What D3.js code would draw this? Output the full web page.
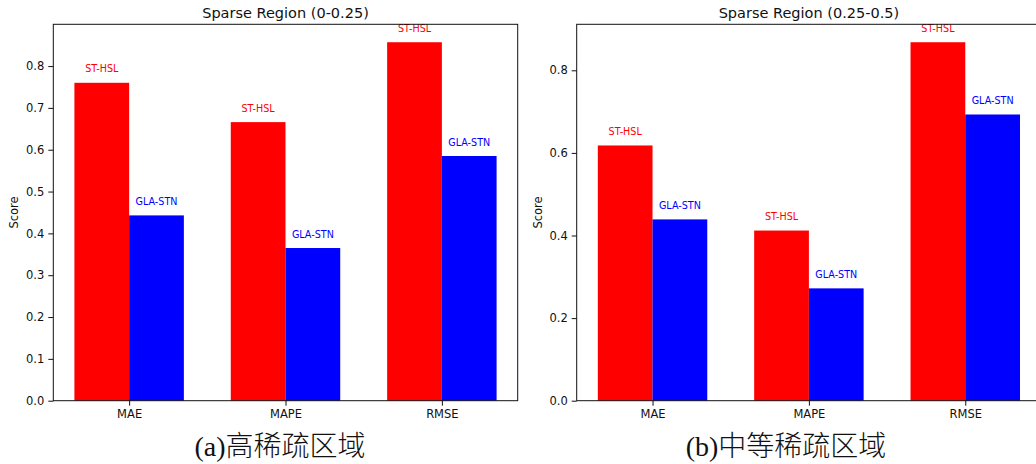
<!DOCTYPE html>
<html>
<head>
<meta charset="utf-8">
<script src="https://cdn.jsdelivr.net/npm/d3@7"></script>
<style>
  body { margin: 0; background: #fff; }
  svg { display: block; }
  text { font-family: "DejaVu Sans", sans-serif; }
</style>
</head>
<body>
<svg id="chart" width="1036" height="464"></svg>
<script>
// ---- data ----
const metrics = ["MAE", "MAPE", "RMSE"];
const seriesNames = ["ST-HSL", "GLA-STN"];
const seriesColors = ["#ff0000", "#0000ff"];

// high-sparsity region (0-0.25)
const highSparseSTHSL = [0.760, 0.666, 0.857];
const highSparseGLASTN = [0.443, 0.365, 0.585];
// medium-sparsity region (0.25-0.5)
const midSparseSTHSL = [0.618, 0.412, 0.868];
const midSparseGLASTN = [0.439, 0.272, 0.693];

const highTicks = [0.0, 0.1, 0.2, 0.3, 0.4, 0.5, 0.6, 0.7, 0.8];
const midTicks = [0.0, 0.2, 0.4, 0.6, 0.8];

const panelTitles = ["Sparse Region (0-0.25)", "Sparse Region (0.25-0.5)"];
const captions = ["(a)高稀疏区域", "(b)中等稀疏区域"];
const yLabel = "Score";

// ---- layout ----
const svg = d3.select("#chart");
svg.append("rect").attr("width", 1036).attr("height", 464).attr("fill", "#fff");

const barWidth = 0.35;
const plotTop = 24.3, plotBottom = 400.7;

const panels = [
  { left: 53.3, right: 517.7, series: [highSparseSTHSL, highSparseGLASTN], ticks: highTicks,
    title: panelTitles[0], caption: captions[0], captionX: 280, ylabelX: 14 },
  { left: 576.7, right: 1041.1, series: [midSparseSTHSL, midSparseGLASTN], ticks: midTicks,
    title: panelTitles[1], caption: captions[1], captionX: 786, ylabelX: 537.7 }
];

panels.forEach(p => {
  const g = svg.append("g");
  const allVals = p.series.flat();
  const yMax = d3.max(allVals) * 1.05;

  // bars sit at index ± width/2, with 5% horizontal margin like a default autoscale
  const dataMin = -barWidth, dataMax = metrics.length - 1 + barWidth;
  const pad = (dataMax - dataMin) * 0.05;
  const x = d3.scaleLinear().domain([dataMin - pad, dataMax + pad]).range([p.left, p.right]);
  const y = d3.scaleLinear().domain([0, yMax]).range([plotBottom, plotTop]);

  // bars
  p.series.forEach((vals, si) => {
    const offset = si === 0 ? -barWidth : 0;
    g.selectAll(null).data(vals).enter().append("rect")
      .attr("x", (d, i) => x(i + offset))
      .attr("y", d => y(d))
      .attr("width", (d, i) => x(i + offset + barWidth) - x(i + offset))
      .attr("height", d => y(0) - y(d))
      .attr("fill", seriesColors[si]);

    g.selectAll(null).data(vals).enter().append("text")
      .attr("x", (d, i) => x(i + offset + barWidth / 2))
      .attr("y", d => y(d + 0.02) - 2)
      .attr("text-anchor", "middle")
      .attr("font-size", "9.6px")
      .attr("fill", seriesColors[si])
      .text(seriesNames[si]);
  });

  // frame
  g.append("rect")
    .attr("x", p.left).attr("y", plotTop)
    .attr("width", p.right - p.left).attr("height", plotBottom - plotTop)
    .attr("fill", "none").attr("stroke", "#111").attr("stroke-width", 1);

  // y axis
  const yAxis = g.append("g").attr("transform", `translate(${p.left},0)`)
    .call(d3.axisLeft(y).tickValues(p.ticks).tickFormat(d3.format(".1f")).tickSize(5).tickPadding(4));
  yAxis.select(".domain").remove();
  yAxis.selectAll("text").attr("font-size", "11.5px").attr("font-family", "DejaVu Sans").attr("fill", "#111");
  yAxis.selectAll("line").attr("stroke", "#111");

  // x axis
  const xAxis = g.append("g").attr("transform", `translate(0,${plotBottom})`)
    .call(d3.axisBottom(x).tickValues(d3.range(metrics.length)).tickFormat(i => metrics[i]).tickSize(5).tickPadding(4));
  xAxis.select(".domain").remove();
  xAxis.selectAll("text").attr("font-size", "11.5px").attr("font-family", "DejaVu Sans").attr("fill", "#111");
  xAxis.selectAll("line").attr("stroke", "#111");

  // y label
  g.append("text")
    .attr("transform", `translate(${p.ylabelX},${(plotTop + plotBottom) / 2}) rotate(-90)`)
    .attr("dy", "0.35em")
    .attr("text-anchor", "middle")
    .attr("font-size", "11.5px")
    .attr("fill", "#111")
    .text(yLabel);

  // title
  g.append("text")
    .attr("x", (p.left + p.right) / 2).attr("y", 17.5)
    .attr("text-anchor", "middle")
    .attr("font-size", "14.5px")
    .attr("fill", "#111")
    .text(p.title);

  // caption
  g.append("text")
    .attr("x", p.captionX).attr("y", 456)
    .attr("text-anchor", "middle")
    .attr("font-size", "28px")
    .attr("font-weight", 300)
    .style("font-family", '"Liberation Serif", "Noto Sans CJK SC", serif')
    .attr("fill", "#111")
    .text(p.caption);
});
</script>
</body>
</html>
